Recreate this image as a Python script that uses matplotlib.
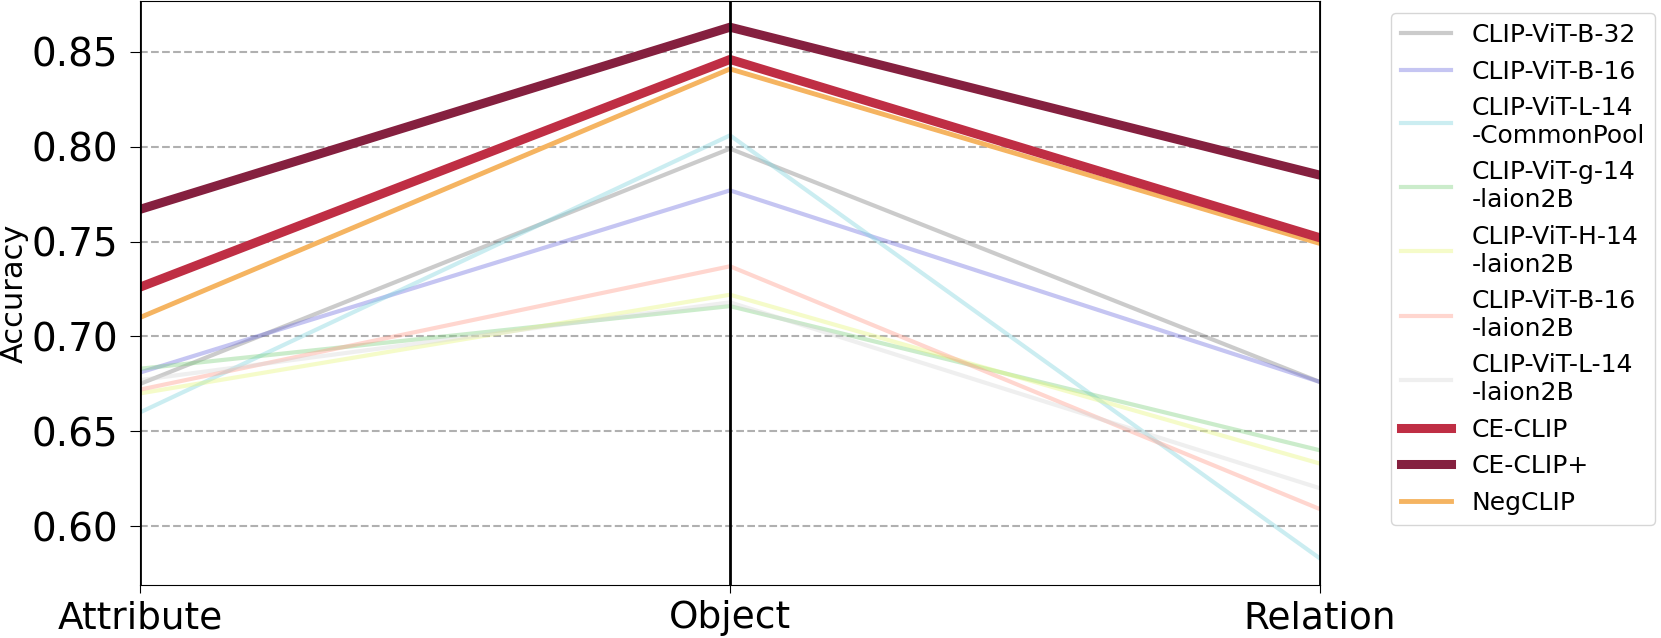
import matplotlib
matplotlib.use("Agg")
import matplotlib.pyplot as plt


# ==========================
# Data
# ==========================
categories = ["Attribute", "Object", "Relation"]

model_names = [
    "CLIP-ViT-B-32",
    "CLIP-ViT-B-16",
    "CLIP-ViT-L-14\n-CommonPool",
    "CLIP-ViT-g-14\n-laion2B",
    "CLIP-ViT-H-14\n-laion2B",
    "CLIP-ViT-B-16\n-laion2B",
    "CLIP-ViT-L-14\n-laion2B",
    "CE-CLIP",
    "CE-CLIP+",
    "NegCLIP",
]

vit_b32 = [0.675, 0.799, 0.676]
vit_b16 = [0.681, 0.777, 0.676]
vit_l14_commonpool = [0.660, 0.806, 0.583]
vit_g14_laion = [0.683, 0.716, 0.640]
vit_h14_laion = [0.670, 0.722, 0.633]
vit_b16_laion = [0.672, 0.737, 0.609]
vit_l14_laion = [0.677, 0.718, 0.620]
ce_clip = [0.726, 0.846, 0.752]
ce_clip_plus = [0.767, 0.863, 0.785]
negclip = [0.710, 0.841, 0.749]

all_values = [vit_b32, vit_b16, vit_l14_commonpool, vit_g14_laion,
              vit_h14_laion, vit_b16_laion, vit_l14_laion,
              ce_clip, ce_clip_plus, negclip]

# style per model: (color, alpha, linewidth, zorder)
styles = [
    ("#7f7f7f", 0.4, 3.0, 2),
    ("#6f6fdf", 0.4, 3.0, 2),
    ("#7fd3dd", 0.4, 3.0, 2),
    ("#7fd07f", 0.4, 3.0, 2),
    ("#e6f77a", 0.4, 3.0, 2),
    ("#ff9a88", 0.4, 3.0, 2),
    ("#d8d8d8", 0.4, 3.0, 2),
    ("#bf2e44", 1.0, 6.5, 4),
    ("#85203f", 1.0, 6.5, 4),
    ("#f5b461", 1.0, 3.5, 3),
]


# ==========================
# Parallel coordinates plot
# ==========================
fig = plt.figure(figsize=(16.61, 6.38), dpi=100)
ax = fig.add_axes([0.0843, 0.083, 0.7104, 0.916])

x = list(range(len(categories)))

for name, vals, (color, alpha, lw, z) in zip(model_names, all_values, styles):
    ax.plot(x, vals, color=color, alpha=alpha, linewidth=lw, label=name, zorder=z)

for xi in x:
    ax.axvline(xi, color="black", linewidth=2, zorder=5)

ax.set_xlim(x[0], x[-1])
ax.set_xticks(x)
ax.set_xticklabels(categories, fontsize=27)
ax.tick_params(axis="x", length=6, pad=5)
ax.tick_params(axis="y", labelsize=28, length=7, pad=9)
ax.set_yticks([0.60, 0.65, 0.70, 0.75, 0.80, 0.85])
ax.set_ylabel("Accuracy", fontsize=22, labelpad=2)

ax.grid(axis="y", linestyle="--", color="#b0b0b0", linewidth=1.5)
ax.set_axisbelow(True)

ax.legend(loc="upper left", bbox_to_anchor=(1.05, 1.0), fontsize=18)

plt.savefig("out.png", dpi=100)
